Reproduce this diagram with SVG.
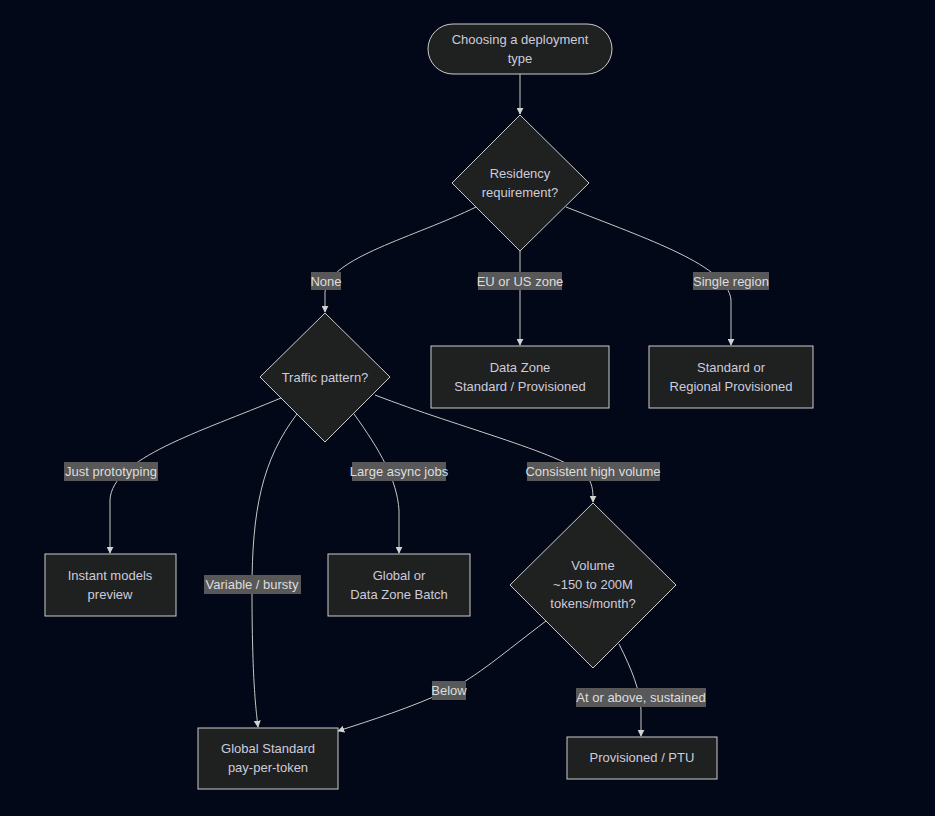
<svg xmlns="http://www.w3.org/2000/svg" width="935" height="816" viewBox="0 0 935 816">
<defs>
<style>
.node rect, .node polygon { fill: #1f2020; stroke: #cccccc; stroke-width: 1; }
.node text { fill: #ccccdd; font-family: "Liberation Sans", Arial, sans-serif; font-size: 13px; text-anchor: middle; }
.edge { fill: none; stroke: #c8c8c8; stroke-width: 1; marker-end: url(#arr); }
.lbl rect { fill: #585858; }
.lbl text { fill: #dddddd; font-family: "Liberation Sans", Arial, sans-serif; font-size: 13px; text-anchor: middle; }
</style>
<marker id="arr" viewBox="0 0 10 10" refX="9" refY="5" markerWidth="7" markerHeight="7" markerUnits="userSpaceOnUse" orient="auto">
<path d="M0,0 L10,5 L0,10 z" fill="#d3d3d3"/>
</marker>
</defs>
<rect width="935" height="816" fill="#020817"/>
<g id="connectors">
<path class="edge" d="M520,74 L520,114"/>
<path class="edge" d="M476,207 C415,237 328,258 325,292 L325,312"/>
<path class="edge" d="M520,251 L520,345"/>
<path class="edge" d="M566,207 C650,240 728,266 731,300 L731,345"/>
<path class="edge" d="M281,398 C200,432 112,458 110,500 L110,553"/>
<path class="edge" d="M297,414 C262,460 252,510 252,590 C252,680 256,710 258,727"/>
<path class="edge" d="M354,414 C380,450 397,480 399,510 L399,553"/>
<path class="edge" d="M375,395 C460,428 570,455 588,478 C593,485 593,493 593,502"/>
<path class="edge" d="M546,621 C505,652 475,678 449,690 C410,708 372,720 338,731"/>
<path class="edge" d="M619,644 C632,670 640,690 641,710 L641,736"/>
</g>
<g id="edge-labels">
<g class="lbl"><rect x="311" y="272" width="30" height="18"/><text x="326" y="286">None</text></g>
<g class="lbl"><rect x="478" y="272" width="84" height="18"/><text x="520" y="286">EU or US zone</text></g>
<g class="lbl"><rect x="693" y="272" width="76" height="18"/><text x="731" y="286">Single region</text></g>
<g class="lbl"><rect x="64" y="462" width="94" height="19"/><text x="111" y="476">Just prototyping</text></g>
<g class="lbl"><rect x="204" y="575" width="97" height="19"/><text x="252" y="589">Variable / bursty</text></g>
<g class="lbl"><rect x="352" y="462" width="94" height="19"/><text x="399" y="476">Large async jobs</text></g>
<g class="lbl"><rect x="527" y="462" width="133" height="19"/><text x="593" y="476">Consistent high volume</text></g>
<g class="lbl"><rect x="432" y="681" width="34" height="19"/><text x="449" y="695">Below</text></g>
<g class="lbl"><rect x="576" y="688" width="130" height="19"/><text x="641" y="702">At or above, sustained</text></g>
</g>
<g id="start" class="node"><rect x="428" y="24" width="184" height="50" rx="25" ry="25"/><text x="520" y="44">Choosing a deployment</text><text x="520" y="63">type</text></g>
<g id="residency" class="node"><polygon points="520,115 589,183 520,251 452,183"/><text x="520" y="178">Residency</text><text x="520" y="197">requirement?</text></g>
<g id="datazone" class="node"><rect x="431" y="346" width="178" height="62"/><text x="520" y="372">Data Zone</text><text x="520" y="391">Standard / Provisioned</text></g>
<g id="regional" class="node"><rect x="649" y="346" width="164" height="62"/><text x="731" y="372">Standard or</text><text x="731" y="391">Regional Provisioned</text></g>
<g id="traffic" class="node"><polygon points="325,313 390,377 325,442 260,377"/><text x="325" y="382">Traffic pattern?</text></g>
<g id="instant" class="node"><rect x="45" y="554" width="131" height="62"/><text x="110" y="580">Instant models</text><text x="110" y="599">preview</text></g>
<g id="batch" class="node"><rect x="328" y="554" width="142" height="62"/><text x="399" y="580">Global or</text><text x="399" y="599">Data Zone Batch</text></g>
<g id="volume" class="node"><polygon points="593,503 676,585 593,668 510,585"/><text x="593" y="570">Volume</text><text x="593" y="589">~150 to 200M</text><text x="593" y="608">tokens/month?</text></g>
<g id="globalstd" class="node"><rect x="198" y="728" width="140" height="61"/><text x="268" y="753">Global Standard</text><text x="268" y="772">pay-per-token</text></g>
<g id="ptu" class="node"><rect x="567" y="737" width="150" height="42"/><text x="642" y="762">Provisioned / PTU</text></g>
</svg>
